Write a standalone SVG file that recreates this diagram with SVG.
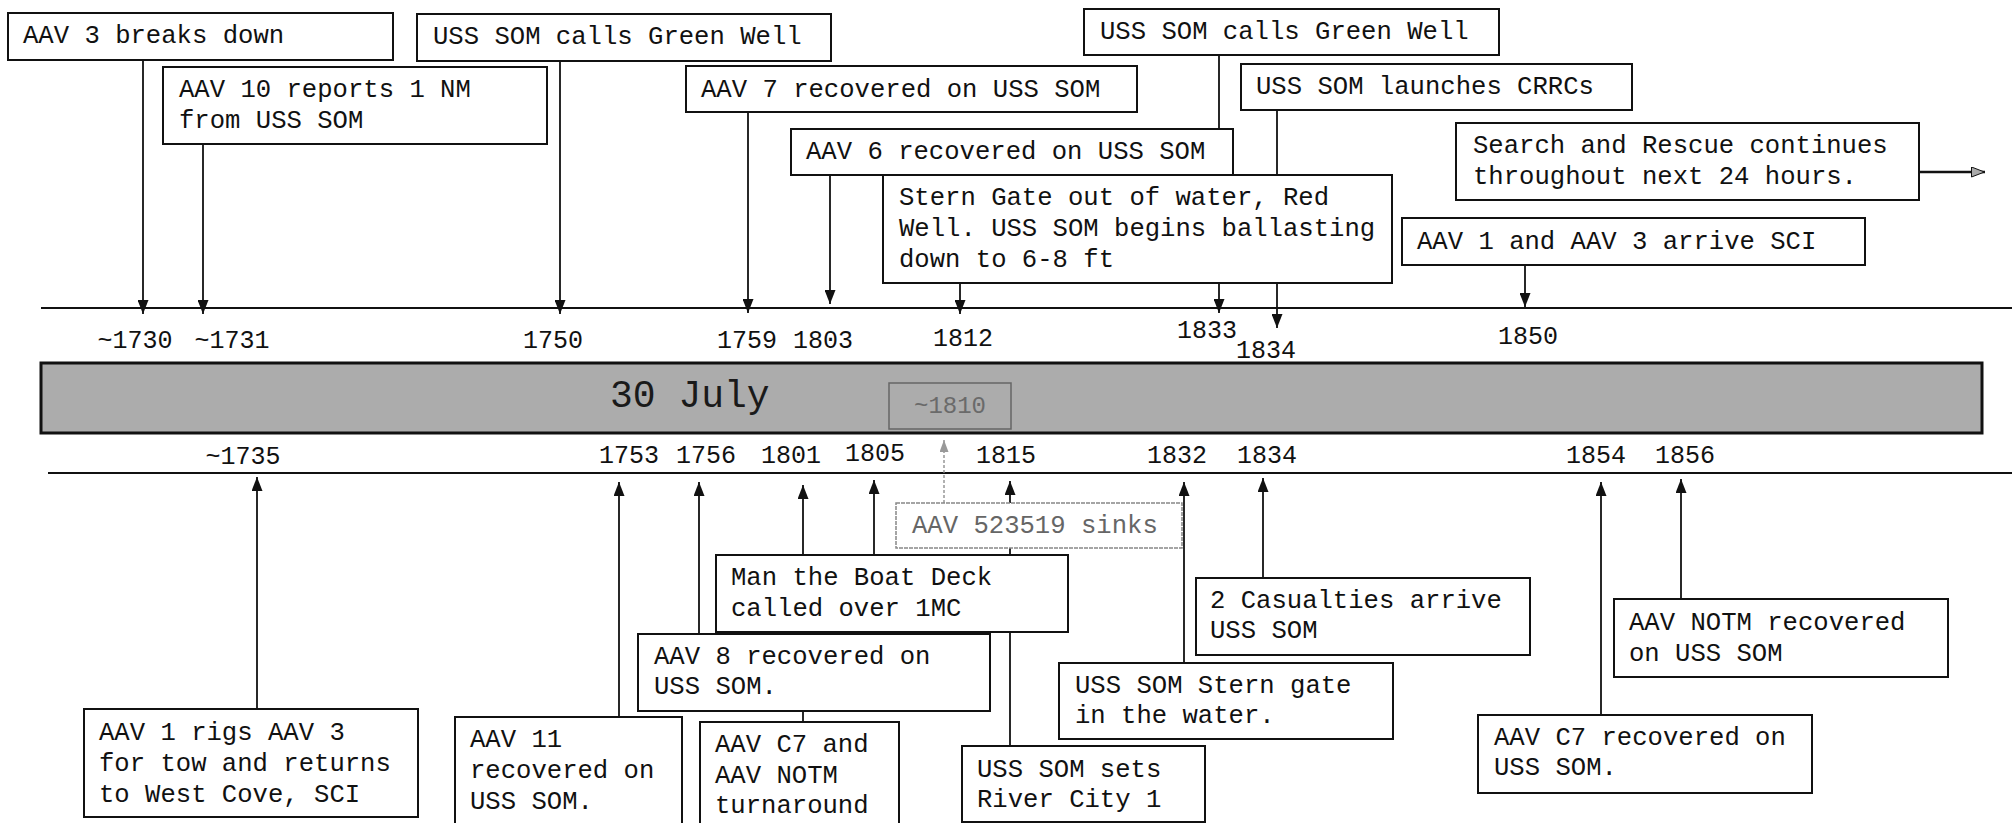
<svg xmlns="http://www.w3.org/2000/svg" width="2012" height="823" viewBox="0 0 2012 823">
<style>
.box{fill:#fff;stroke:#111;stroke-width:2}
.gbox{fill:#fff;stroke:#888;stroke-width:1.5;stroke-dasharray:4 1}
.t{font-family:"Liberation Mono","Courier New",monospace;font-size:25.6px;fill:#111}
.gt{font-family:"Liberation Mono","Courier New",monospace;font-size:25.6px;fill:#666}
.lbl{font-family:"Liberation Mono","Courier New",monospace;font-size:25px;fill:#111;text-anchor:middle}
.c{stroke:#111;stroke-width:1.8;fill:none;marker-end:url(#arr)}
.cg{stroke:#888;stroke-width:1.3;fill:none;stroke-dasharray:3 2;marker-end:url(#arrg)}
.axis{stroke:#111;stroke-width:2.2}
</style>
<defs>
<marker id="arr" viewBox="0 0 14 11" refX="14" refY="5.5" markerWidth="14" markerHeight="11" markerUnits="userSpaceOnUse" orient="auto">
<path d="M0,0 L14,5.5 L0,11 z" fill="#111"/>
</marker>
<marker id="arrg" viewBox="0 0 12 9" refX="12" refY="4.5" markerWidth="12" markerHeight="9" markerUnits="userSpaceOnUse" orient="auto">
<path d="M0,0 L12,4.5 L0,9 z" fill="#999"/>
</marker>
<marker id="arro" viewBox="0 0 14 11" refX="14" refY="5.5" markerWidth="14" markerHeight="11" markerUnits="userSpaceOnUse" orient="auto">
<path d="M0.5,0.5 L13.5,5.5 L0.5,10.5 z" fill="#aaa" stroke="#111" stroke-width="1"/>
</marker>
</defs>
<rect width="2012" height="823" fill="#fff"/>

<g id="timeline">
<line class="axis" x1="41" y1="308" x2="2012" y2="308"/>
<line class="axis" x1="48" y1="473" x2="2012" y2="473"/>
<rect x="41" y="363" width="1941" height="70" fill="#acacac" stroke="#111" stroke-width="3"/>
<text x="610" y="407" font-family="Liberation Mono, Courier New, monospace" font-size="38" fill="#1a1a1a">30 July</text>
</g>

<g id="time-labels">
<text class="lbl" x="135" y="348">~1730</text>
<text class="lbl" x="232" y="348">~1731</text>
<text class="lbl" x="553" y="348">1750</text>
<text class="lbl" x="747" y="348">1759</text>
<text class="lbl" x="823" y="348">1803</text>
<text class="lbl" x="963" y="346">1812</text>
<text class="lbl" x="1207" y="338">1833</text>
<text class="lbl" x="1266" y="358">1834</text>
<text class="lbl" x="1528" y="344">1850</text>
<text class="lbl" x="243" y="464">~1735</text>
<text class="lbl" x="629" y="463">1753</text>
<text class="lbl" x="706" y="463">1756</text>
<text class="lbl" x="791" y="463">1801</text>
<text class="lbl" x="875" y="461">1805</text>
<text class="lbl" x="1006" y="463">1815</text>
<text class="lbl" x="1177" y="463">1832</text>
<text class="lbl" x="1267" y="463">1834</text>
<text class="lbl" x="1596" y="463">1854</text>
<text class="lbl" x="1685" y="463">1856</text>
</g>

<g id="connectors">
<line class="c" x1="143" y1="60" x2="143" y2="314"/>
<line class="c" x1="203" y1="144" x2="203" y2="314"/>
<line class="c" x1="560" y1="61" x2="560" y2="314"/>
<line class="c" x1="748" y1="112" x2="748" y2="313"/>
<line class="c" x1="830" y1="175" x2="830" y2="304"/>
<line class="c" x1="960" y1="283" x2="960" y2="314"/>
<line class="c" x1="1219" y1="55" x2="1219" y2="313"/>
<line class="c" x1="1277" y1="110" x2="1277" y2="328"/>
<line class="c" x1="1525" y1="265" x2="1525" y2="307"/>
<line class="c" x1="1919" y1="172" x2="1985" y2="172" style="marker-end:url(#arro);stroke-width:2.4"/>
<line class="c" x1="257" y1="709" x2="257" y2="477"/>
<line class="c" x1="619" y1="717" x2="619" y2="482"/>
<line class="c" x1="699" y1="634" x2="699" y2="482"/>
<line class="c" x1="803" y1="722" x2="803" y2="485"/>
<line class="c" x1="874" y1="555" x2="874" y2="480"/>
<line class="c" x1="1010" y1="746" x2="1010" y2="481"/>
<line class="cg" x1="944" y1="503" x2="944" y2="440"/>
<line class="c" x1="1184" y1="663" x2="1184" y2="482"/>
<line class="c" x1="1263" y1="578" x2="1263" y2="478"/>
<line class="c" x1="1601" y1="715" x2="1601" y2="482"/>
<line class="c" x1="1681" y1="599" x2="1681" y2="479"/>
</g>

<g id="n1"><rect class="box" x="8" y="13" width="385" height="47"/><text class="t" x="23" y="43">AAV 3 breaks down</text></g>
<g id="n2"><rect class="box" x="163" y="67" width="384" height="77"/><text class="t" x="179" y="97">AAV 10 reports 1 NM</text><text class="t" x="179" y="128">from USS SOM</text></g>
<g id="n3"><rect class="box" x="417" y="14" width="414" height="47"/><text class="t" x="433" y="44">USS SOM calls Green Well</text></g>
<g id="n4"><rect class="box" x="686" y="66" width="451" height="46"/><text class="t" x="701" y="97">AAV 7 recovered on USS SOM</text></g>
<g id="n5"><rect class="box" x="791" y="129" width="442" height="46"/><text class="t" x="806" y="159">AAV 6 recovered on USS SOM</text></g>
<g id="n6"><rect class="box" x="883" y="175" width="509" height="108"/><text class="t" x="899" y="205">Stern Gate out of water, Red</text><text class="t" x="899" y="236">Well. USS SOM begins ballasting</text><text class="t" x="899" y="267">down to 6-8 ft</text></g>
<g id="n7"><rect class="box" x="1084" y="9" width="415" height="46"/><text class="t" x="1100" y="39">USS SOM calls Green Well</text></g>
<g id="n8"><rect class="box" x="1241" y="64" width="391" height="46"/><text class="t" x="1256" y="94">USS SOM launches CRRCs</text></g>
<g id="n9"><rect class="box" x="1456" y="123" width="463" height="77"/><text class="t" x="1473" y="153">Search and Rescue continues</text><text class="t" x="1473" y="184">throughout next 24 hours.</text></g>
<g id="n10"><rect class="box" x="1402" y="218" width="463" height="47"/><text class="t" x="1417" y="249">AAV 1 and AAV 3 arrive SCI</text></g>

<g id="n22"><rect x="889" y="383" width="122" height="46" fill="none" stroke="#666" stroke-width="1.5"/><text x="950" y="413" font-family="Liberation Mono, Courier New, monospace" font-size="24" fill="#6a6a6a" text-anchor="middle">~1810</text></g>

<g id="n11"><rect class="box" x="84" y="709" width="334" height="108"/><text class="t" x="99" y="740">AAV 1 rigs AAV 3</text><text class="t" x="99" y="771">for tow and returns</text><text class="t" x="99" y="802">to West Cove, SCI</text></g>
<g id="n12"><rect class="box" x="455" y="717" width="227" height="115"/><text class="t" x="470" y="747">AAV 11</text><text class="t" x="470" y="778">recovered on</text><text class="t" x="470" y="809">USS SOM.</text></g>
<g id="n13"><rect class="box" x="638" y="634" width="352" height="77"/><text class="t" x="654" y="664">AAV 8 recovered on</text><text class="t" x="654" y="694">USS SOM.</text></g>
<g id="n14"><rect class="box" x="700" y="722" width="199" height="110"/><text class="t" x="715" y="752">AAV C7 and</text><text class="t" x="715" y="783">AAV NOTM</text><text class="t" x="715" y="813">turnaround</text></g>
<g id="n15"><rect class="box" x="716" y="555" width="352" height="77"/><text class="t" x="731" y="585">Man the Boat Deck</text><text class="t" x="731" y="616">called over 1MC</text></g>
<g id="n16"><rect class="gbox" x="896" y="503" width="286" height="45"/><text class="gt" x="912" y="533">AAV 523519 sinks</text></g>
<g id="n17"><rect class="box" x="962" y="746" width="243" height="76"/><text class="t" x="977" y="777">USS SOM sets</text><text class="t" x="977" y="807">River City 1</text></g>
<g id="n18"><rect class="box" x="1059" y="663" width="334" height="76"/><text class="t" x="1075" y="693">USS SOM Stern gate</text><text class="t" x="1075" y="723">in the water.</text></g>
<g id="n19"><rect class="box" x="1196" y="578" width="334" height="77"/><text class="t" x="1210" y="608">2 Casualties arrive</text><text class="t" x="1210" y="638">USS SOM</text></g>
<g id="n20"><rect class="box" x="1478" y="715" width="334" height="78"/><text class="t" x="1494" y="745">AAV C7 recovered on</text><text class="t" x="1494" y="775">USS SOM.</text></g>
<g id="n21"><rect class="box" x="1614" y="599" width="334" height="78"/><text class="t" x="1629" y="630">AAV NOTM recovered</text><text class="t" x="1629" y="661">on USS SOM</text></g>
</svg>
